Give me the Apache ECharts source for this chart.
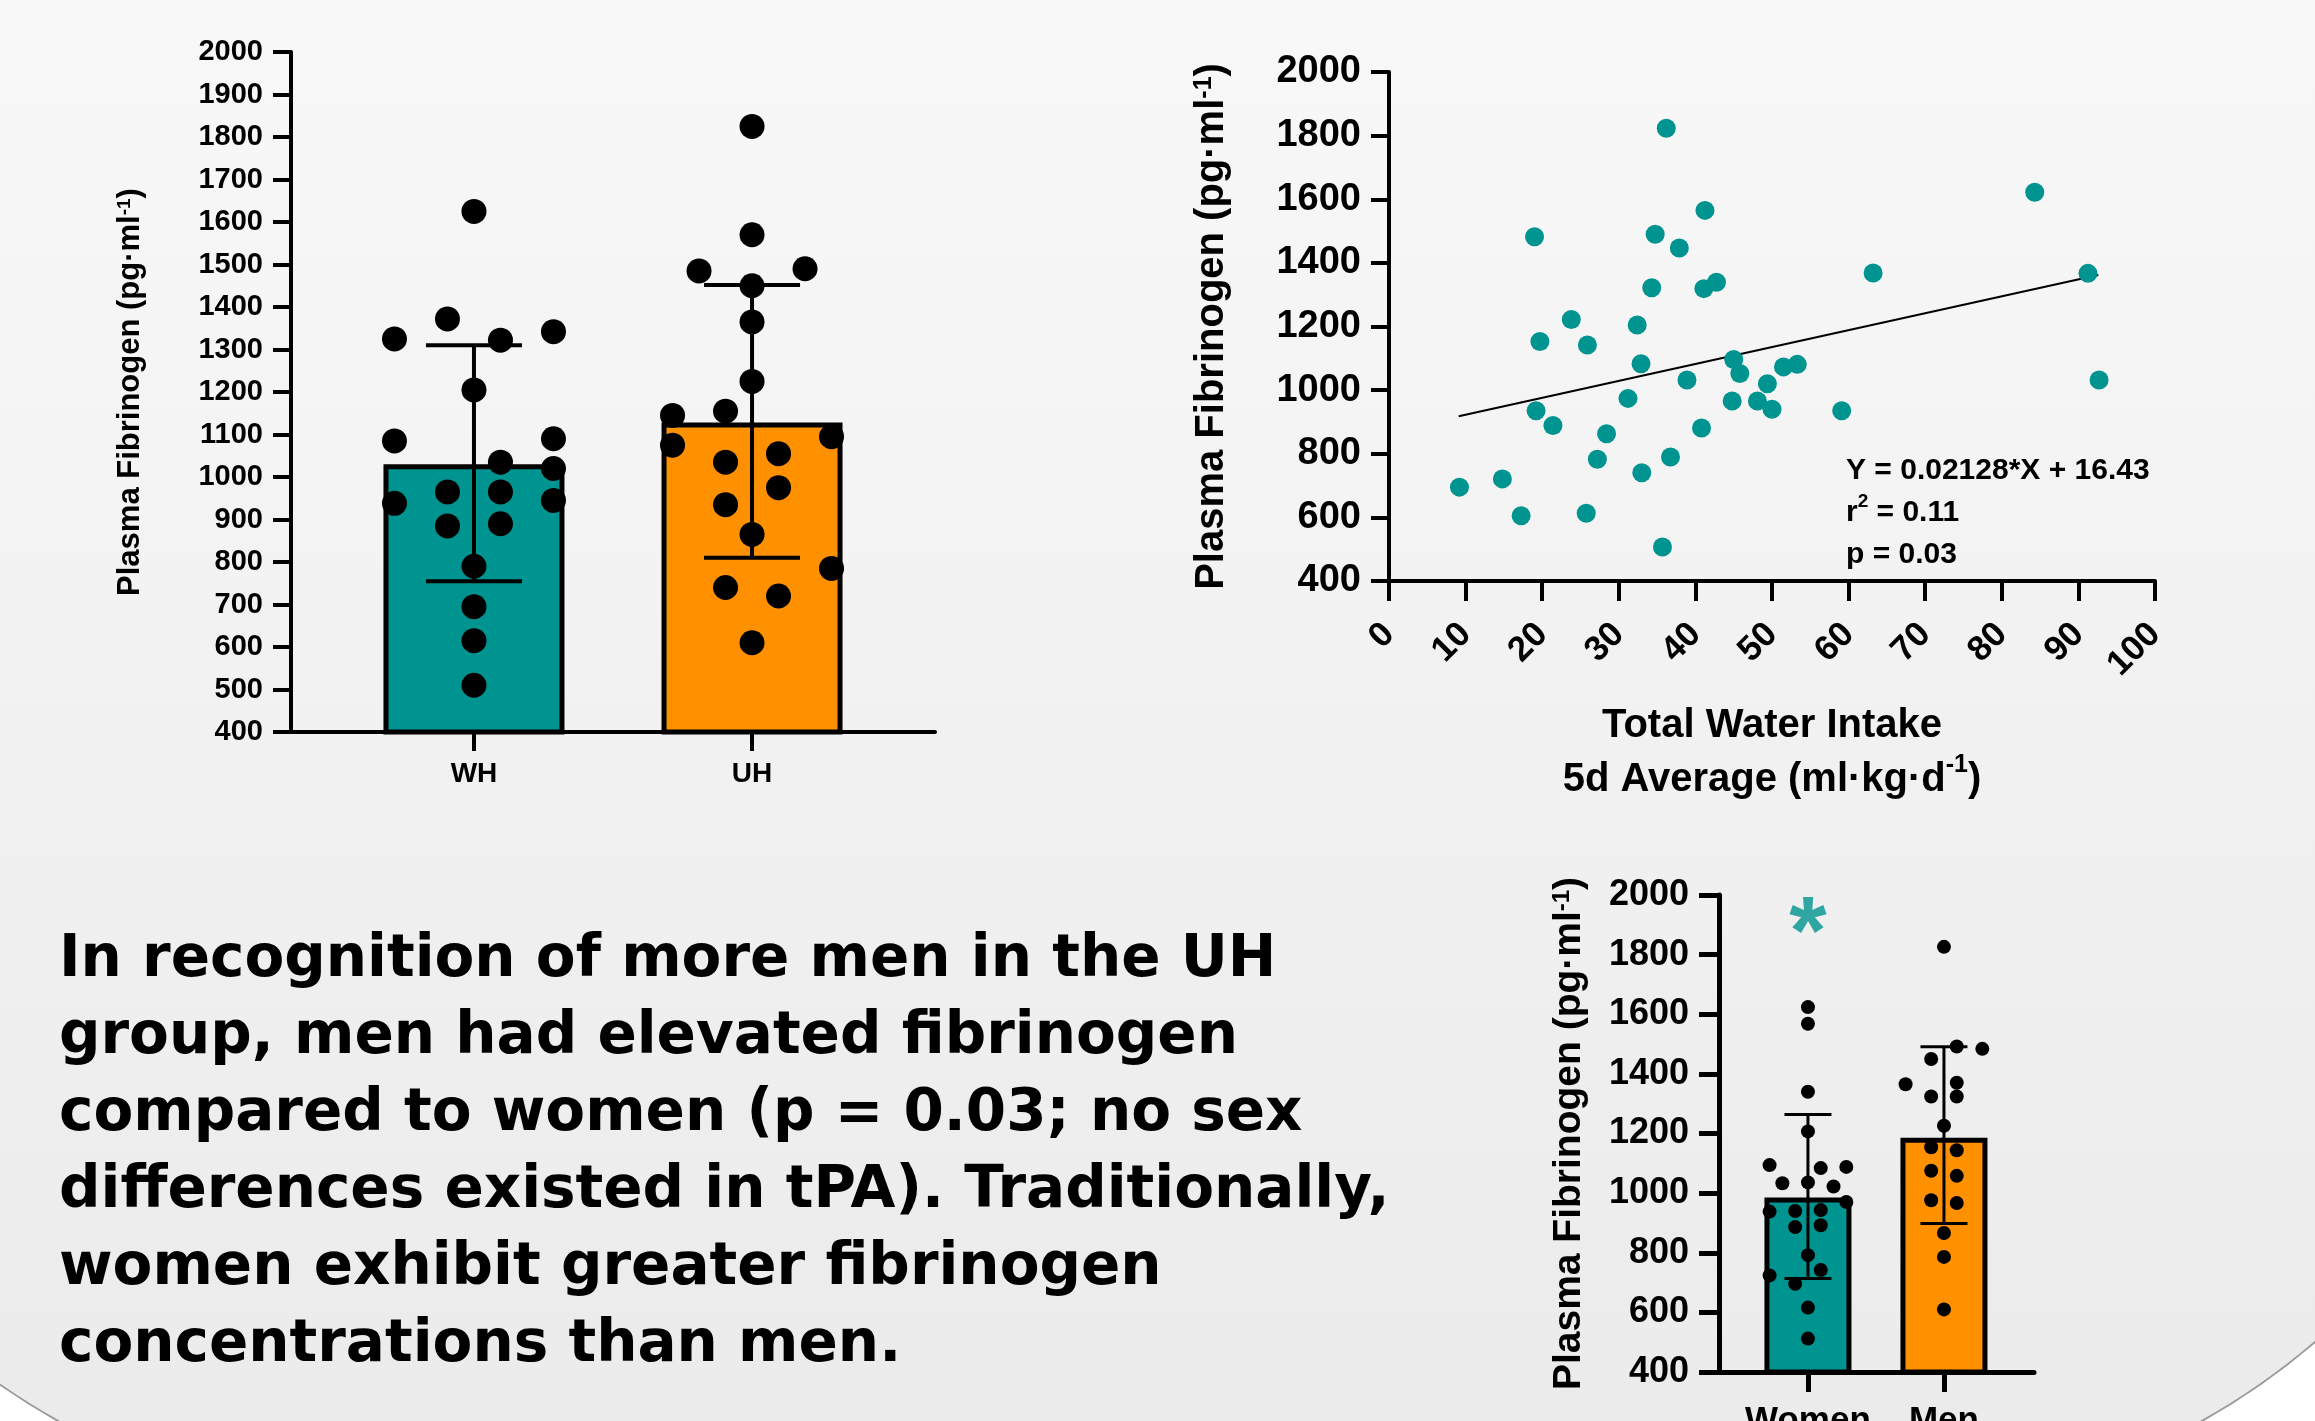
<!DOCTYPE html>
<html>
<head>
<meta charset="utf-8">
<script src="https://cdn.jsdelivr.net/npm/echarts@6/dist/echarts.min.js"></script>
<style>
html, body { margin: 0; padding: 0; background: #fff; }
#chart { width: 2315px; height: 1421px; }
</style>
</head>
<body>
<div id="chart"></div>
<script>
// hydration groups (top left panel)
var hydrationGroups = ['WH', 'UH'];
var hydrationMeans = [1030, 1128];
var hydrationSdLow = [755, 810];
var hydrationSdHigh = [1310, 1452];
// dots as [column offset, value]
var whPoints = [[0, 1625], [-1, 1372], [-3, 1325], [1, 1322], [3, 1342], [0, 1205], [-3, 1085], [3, 1090],
    [1, 1035], [3, 1020], [-1, 965], [1, 965], [-3, 938], [3, 945], [-1, 885], [1, 890], [0, 790],
    [0, 695], [0, 615], [0, 510]];
var uhPoints = [[0, 1825], [0, 1570], [-2, 1485], [2, 1490], [0, 1450], [0, 1365], [0, 1225], [-3, 1145],
    [-1, 1155], [-3, 1075], [3, 1095], [-1, 1035], [1, 1055], [1, 975], [-1, 935], [0, 865], [3, 785],
    [-1, 740], [1, 720], [0, 610]];

// water intake vs fibrinogen (top right panel)
var waterIntake = [36.2, 84.3, 41.25, 19.0, 34.75, 37.9, 63.2, 91.25, 34.3, 41.1, 42.75, 23.8, 32.4, 19.7,
    25.9, 32.9, 45.0, 45.8, 51.5, 53.3, 38.9, 49.4, 31.2, 44.8, 48.1, 50.0, 59.1, 19.2, 21.4, 28.4, 40.8,
    27.2, 36.75, 33.0, 9.2, 14.8, 17.25, 25.75, 35.7, 92.7];
var fibrinogen = [1823, 1622, 1565, 1482, 1490, 1447, 1368, 1367, 1322, 1319, 1339, 1222, 1205, 1153,
    1142, 1083, 1096, 1052, 1073, 1081, 1032, 1020, 974, 966, 966, 940, 935, 935, 889, 863, 881,
    783, 790, 740, 695, 721, 605, 613, 507, 1032];
var fitLine = [[9.1, 918], [92.6, 1362]];
var fitText = ['Y = 0.02128*X + 16.43', 'r{sup|2} = 0.11', 'p = 0.03'];
var intakeTicks = [0, 10, 20, 30, 40, 50, 60, 70, 80, 90, 100];

// sex panel (bottom right)
var sexGroups = ['Women', 'Men'];
var sexMeans = [985, 1186];
var sexSdLow = [714, 898];
var sexSdHigh = [1264, 1491];
var sexSignif = ['*', ''];
var womenPoints = [[0, 1624], [0, 1568], [0, 1340], [0, 1207], [-3, 1094], [1, 1084], [3, 1088], [-2, 1033],
    [0, 1036], [2, 1022], [3, 970], [-3, 938], [-1, 940], [1, 943], [-1, 886], [1, 892], [0, 792],
    [1, 742], [-3, 724], [-1, 696], [0, 616], [0, 512]];
var menPoints = [[0, 1826], [1, 1492], [3, 1484], [-1, 1450], [-3, 1365], [1, 1370], [-1, 1324], [1, 1324],
    [0, 1226], [-1, 1154], [1, 1144], [-1, 1075], [1, 1058], [-1, 976], [1, 967], [0, 866], [0, 786],
    [0, 610]];

var paragraph = [
    'In recognition of more men in the UH',
    'group, men had elevated fibrinogen',
    'compared to women (p = 0.03; no sex',
    'differences existed in tPA). Traditionally,',
    'women exhibit greater fibrinogen',
    'concentrations than men.'
];

var TEAL = '#009490';
var ORANGE = '#ff9100';
var FONT = '"Liberation Sans", Arial, Helvetica, sans-serif';
var barColors = [TEAL, ORANGE];

function plain(v) { return String(v); }

function yName(size) {
    return {
        fontSize: size, fontWeight: 'bold', color: '#000', fontFamily: FONT,
        rich: { sup: { fontSize: Math.round(size * 0.62), fontWeight: 'bold', color: '#000', fontFamily: FONT, verticalAlign: 'top' } }
    };
}

function valueYAxis(gridIndex, interval, labelSize, tickLen, lw, nameSize, nameGap) {
    return {
        gridIndex: gridIndex, type: 'value', min: 400, max: 2000, interval: interval,
        name: 'Plasma Fibrinogen (pg·ml{sup|-1})', nameLocation: 'middle', nameGap: nameGap,
        nameMoveOverlap: false,
        nameTextStyle: yName(nameSize),
        axisLine: { show: true, lineStyle: { color: '#000', width: lw } },
        axisTick: { show: true, length: tickLen, lineStyle: { color: '#000', width: lw } },
        axisLabel: { fontSize: labelSize, fontWeight: 'bold', color: '#000', fontFamily: FONT, margin: tickLen + 10, formatter: plain },
        splitLine: { show: false }
    };
}

function groupXAxis(gridIndex, min, max, groups, labelSize, tickLen, lw, margin) {
    return {
        gridIndex: gridIndex, type: 'value', min: min, max: max,
        axisLine: { show: true, lineStyle: { color: '#000', width: lw } },
        axisTick: { show: true, length: tickLen, customValues: [1, 2], lineStyle: { color: '#000', width: lw } },
        axisLabel: {
            customValues: [1, 2], margin: margin,
            fontSize: labelSize, fontWeight: 'bold', color: '#000', fontFamily: FONT,
            formatter: function (v) { return groups[Math.round(v) - 1]; }
        },
        splitLine: { show: false }
    };
}

function barSeries(axisIndex, means, width, border) {
    return {
        type: 'bar', xAxisIndex: axisIndex, yAxisIndex: axisIndex, barWidth: width, z: 2,
        itemStyle: { borderColor: '#000', borderWidth: border },
        data: means.map(function (m, i) {
            return { value: [i + 1, m], itemStyle: { color: barColors[i] } };
        })
    };
}

function errorSeries(axisIndex, low, high, cap, lw) {
    return {
        type: 'custom', xAxisIndex: axisIndex, yAxisIndex: axisIndex, z: 3,
        encode: { x: 0, y: [1, 2] },
        data: low.map(function (v, i) { return [i + 1, v, high[i]]; }),
        renderItem: function (params, api) {
            var lo = api.coord([api.value(0), api.value(1)]);
            var hi = api.coord([api.value(0), api.value(2)]);
            var st = { stroke: '#000', lineWidth: lw };
            return {
                type: 'group', children: [
                    { type: 'line', shape: { x1: lo[0], y1: lo[1], x2: hi[0], y2: hi[1] }, style: st },
                    { type: 'line', shape: { x1: lo[0] - cap / 2, y1: lo[1], x2: lo[0] + cap / 2, y2: lo[1] }, style: st },
                    { type: 'line', shape: { x1: hi[0] - cap / 2, y1: hi[1], x2: hi[0] + cap / 2, y2: hi[1] }, style: st }
                ]
            };
        }
    };
}

function dotSeries(axisIndex, group, pts, step, size) {
    return {
        type: 'scatter', xAxisIndex: axisIndex, yAxisIndex: axisIndex, z: 4,
        symbolSize: size, itemStyle: { color: '#000', opacity: 1 },
        data: pts.map(function (p) { return [group + p[0] * step, p[1]]; })
    };
}

var chart = echarts.init(document.getElementById('chart'));
chart.setOption({
    backgroundColor: '#ffffff',
    animation: false,
    textStyle: { fontFamily: FONT },
    graphic: [
        {
            type: 'rect', z: -10, silent: true,
            shape: { x: -300, y: -300, width: 2860, height: 1810, r: 700 },
            style: {
                fill: new echarts.graphic.LinearGradient(0, 0, 0, 1, [
                    { offset: 0, color: '#f9f9f9' }, { offset: 0.166, color: '#f8f8f8' },
                    { offset: 0.95, color: '#ebebeb' }, { offset: 1, color: '#eaeaea' }
                ]),
                stroke: '#9a9a9a', lineWidth: 2
            }
        },
        {
            type: 'text', z: 10, x: 59, y: 922,
            style: {
                text: paragraph.join('\n'), fill: '#000',
                fontSize: 58, fontWeight: 'bold', fontFamily: '"DejaVu Sans", Verdana, sans-serif',
                lineHeight: 77, verticalAlign: 'top'
            }
        },
        {
            type: 'text', z: 10, x: 1846, y: 450,
            style: {
                text: fitText.join('\n'), fill: '#000',
                fontSize: 30, fontWeight: 'bold', fontFamily: FONT, lineHeight: 42, verticalAlign: 'top',
                rich: { sup: { fontSize: 19, fontWeight: 'bold', fontFamily: FONT, verticalAlign: 'top', fill: '#000' } }
            }
        }
    ],
    grid: [
        { left: 291, top: 52, width: 644, height: 680, outerBoundsMode: 'none' },
        { left: 1389, top: 72, width: 766, height: 509, outerBoundsMode: 'none' },
        { left: 1719, top: 895, width: 315, height: 477, outerBoundsMode: 'none' }
    ],
    xAxis: [
        groupXAxis(0, 0.342, 2.658, hydrationGroups, 28, 19, 4, 28),
        {
            gridIndex: 1, type: 'value', min: 0, max: 100, interval: 10,
            name: 'Total Water Intake\n5d Average (ml·kg·d{sup|-1})', nameLocation: 'middle', nameGap: 118,
            nameMoveOverlap: false,
            nameTextStyle: {
                fontSize: 40, fontWeight: 'bold', color: '#000', fontFamily: FONT, lineHeight: 54,
                rich: { sup: { fontSize: 25, fontWeight: 'bold', color: '#000', fontFamily: FONT, verticalAlign: 'top' } }
            },
            axisLine: { show: true, lineStyle: { color: '#000', width: 4 } },
            axisTick: { show: true, length: 20, lineStyle: { color: '#000', width: 4 } },
            axisLabel: {
                rotate: 45, margin: 48, fontSize: 35, fontWeight: 'bold', color: '#000', fontFamily: FONT,
                customValues: intakeTicks, formatter: plain
            },
            splitLine: { show: false }
        },
        groupXAxis(2, 0.346, 2.662, sexGroups, 35, 20, 5, 32)
    ],
    yAxis: [
        valueYAxis(0, 100, 29, 18, 4, 31, 145),
        valueYAxis(1, 200, 38, 18, 4, 40, 157),
        valueYAxis(2, 200, 36, 20, 5, 39, 130)
    ],
    series: [
        barSeries(0, hydrationMeans, 181, 5),
        errorSeries(0, hydrationSdLow, hydrationSdHigh, 96, 4),
        dotSeries(0, 1, whPoints, 0.0953, 25),
        dotSeries(0, 2, uhPoints, 0.0953, 25),

        {
            type: 'line', xAxisIndex: 1, yAxisIndex: 1, z: 3, data: fitLine,
            symbol: 'none', lineStyle: { color: '#000', width: 2 }
        },
        {
            type: 'scatter', xAxisIndex: 1, yAxisIndex: 1, z: 4, symbolSize: 19,
            itemStyle: { color: TEAL, opacity: 1 },
            data: waterIntake.map(function (x, i) { return [x, fibrinogen[i]]; })
        },

        barSeries(2, sexMeans, 87, 5),
        errorSeries(2, sexSdLow, sexSdHigh, 47, 3),
        dotSeries(2, 1, womenPoints, 0.094, 14),
        dotSeries(2, 2, menPoints, 0.094, 14),
        {
            type: 'scatter', xAxisIndex: 2, yAxisIndex: 2, z: 5, symbolSize: 2,
            itemStyle: { color: 'rgba(0,0,0,0)' },
            label: {
                show: true, position: 'inside', color: TEAL, fontSize: 96, fontWeight: 'bold', fontFamily: FONT,
                textBorderWidth: 0,
                formatter: function (p) { return sexSignif[p.dataIndex]; }
            },
            data: sexSignif.map(function (s, i) { return [i + 1, 1860]; })
        }
    ]
});
</script>
</body>
</html>
